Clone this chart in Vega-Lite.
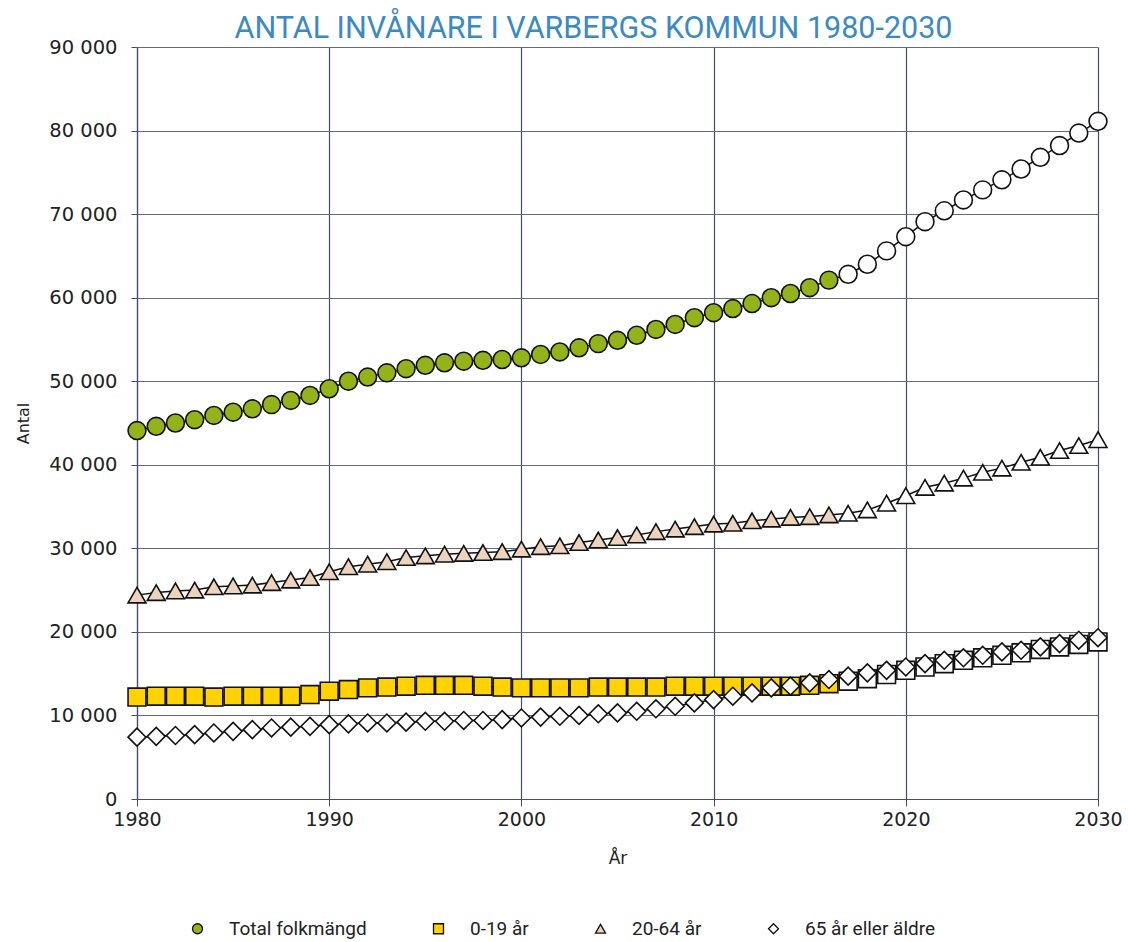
{
  "$schema": "https://vega.github.io/schema/vega-lite/v6.json",
  "width": 961,
  "height": 752,
  "autosize": {"type": "none"},
  "padding": {"left": 137, "top": 47, "right": 30, "bottom": 143},
  "background": "white",
  "title": {"text": "ANTAL INVÅNARE I VARBERGS KOMMUN 1980-2030", "font": "Roboto", "fontSize": 30.5, "fontWeight": "normal", "color": "#3b8ac4", "anchor": "middle", "offset": 6, "dx": -24, "dy": 13},
  "config": {
    "locale": {"number": {"decimal": ",", "thousands": " ", "grouping": [3], "currency": ["", " kr"]}},
    "view": {"stroke": null},
    "font": "DejaVu Sans"
  },
  "data": {"values": [
    {"series":"Total folkmängd","year":1980,"value":44100},{"series":"Total folkmängd","year":1981,"value":44600},{"series":"Total folkmängd","year":1982,"value":45000},{"series":"Total folkmängd","year":1983,"value":45400},{"series":"Total folkmängd","year":1984,"value":45900},{"series":"Total folkmängd","year":1985,"value":46300},{"series":"Total folkmängd","year":1986,"value":46700},{"series":"Total folkmängd","year":1987,"value":47200},{"series":"Total folkmängd","year":1988,"value":47700},{"series":"Total folkmängd","year":1989,"value":48300},
    {"series":"Total folkmängd","year":1990,"value":49100},{"series":"Total folkmängd","year":1991,"value":50000},{"series":"Total folkmängd","year":1992,"value":50500},{"series":"Total folkmängd","year":1993,"value":51000},{"series":"Total folkmängd","year":1994,"value":51500},{"series":"Total folkmängd","year":1995,"value":51900},{"series":"Total folkmängd","year":1996,"value":52200},{"series":"Total folkmängd","year":1997,"value":52400},{"series":"Total folkmängd","year":1998,"value":52500},{"series":"Total folkmängd","year":1999,"value":52600},
    {"series":"Total folkmängd","year":2000,"value":52800},{"series":"Total folkmängd","year":2001,"value":53200},{"series":"Total folkmängd","year":2002,"value":53500},{"series":"Total folkmängd","year":2003,"value":54000},{"series":"Total folkmängd","year":2004,"value":54500},{"series":"Total folkmängd","year":2005,"value":54900},{"series":"Total folkmängd","year":2006,"value":55500},{"series":"Total folkmängd","year":2007,"value":56200},{"series":"Total folkmängd","year":2008,"value":56800},{"series":"Total folkmängd","year":2009,"value":57600},
    {"series":"Total folkmängd","year":2010,"value":58200},{"series":"Total folkmängd","year":2011,"value":58700},{"series":"Total folkmängd","year":2012,"value":59300},{"series":"Total folkmängd","year":2013,"value":60000},{"series":"Total folkmängd","year":2014,"value":60500},{"series":"Total folkmängd","year":2015,"value":61200},{"series":"Total folkmängd","year":2016,"value":62100},{"series":"Total folkmängd","year":2017,"value":62800},{"series":"Total folkmängd","year":2018,"value":64000},{"series":"Total folkmängd","year":2019,"value":65600},
    {"series":"Total folkmängd","year":2020,"value":67300},{"series":"Total folkmängd","year":2021,"value":69100},{"series":"Total folkmängd","year":2022,"value":70400},{"series":"Total folkmängd","year":2023,"value":71700},{"series":"Total folkmängd","year":2024,"value":72900},{"series":"Total folkmängd","year":2025,"value":74100},{"series":"Total folkmängd","year":2026,"value":75400},{"series":"Total folkmängd","year":2027,"value":76800},{"series":"Total folkmängd","year":2028,"value":78200},{"series":"Total folkmängd","year":2029,"value":79700},{"series":"Total folkmängd","year":2030,"value":81100},

    {"series":"0-19 år","year":1980,"value":12200},{"series":"0-19 år","year":1981,"value":12300},{"series":"0-19 år","year":1982,"value":12300},{"series":"0-19 år","year":1983,"value":12300},{"series":"0-19 år","year":1984,"value":12200},{"series":"0-19 år","year":1985,"value":12300},{"series":"0-19 år","year":1986,"value":12300},{"series":"0-19 år","year":1987,"value":12300},{"series":"0-19 år","year":1988,"value":12300},{"series":"0-19 år","year":1989,"value":12500},
    {"series":"0-19 år","year":1990,"value":12900},{"series":"0-19 år","year":1991,"value":13100},{"series":"0-19 år","year":1992,"value":13300},{"series":"0-19 år","year":1993,"value":13400},{"series":"0-19 år","year":1994,"value":13500},{"series":"0-19 år","year":1995,"value":13600},{"series":"0-19 år","year":1996,"value":13600},{"series":"0-19 år","year":1997,"value":13600},{"series":"0-19 år","year":1998,"value":13500},{"series":"0-19 år","year":1999,"value":13400},
    {"series":"0-19 år","year":2000,"value":13300},{"series":"0-19 år","year":2001,"value":13300},{"series":"0-19 år","year":2002,"value":13300},{"series":"0-19 år","year":2003,"value":13300},{"series":"0-19 år","year":2004,"value":13400},{"series":"0-19 år","year":2005,"value":13400},{"series":"0-19 år","year":2006,"value":13400},{"series":"0-19 år","year":2007,"value":13400},{"series":"0-19 år","year":2008,"value":13500},{"series":"0-19 år","year":2009,"value":13500},
    {"series":"0-19 år","year":2010,"value":13500},{"series":"0-19 år","year":2011,"value":13500},{"series":"0-19 år","year":2012,"value":13500},{"series":"0-19 år","year":2013,"value":13500},{"series":"0-19 år","year":2014,"value":13500},{"series":"0-19 år","year":2015,"value":13600},{"series":"0-19 år","year":2016,"value":13800},{"series":"0-19 år","year":2017,"value":14100},{"series":"0-19 år","year":2018,"value":14400},{"series":"0-19 år","year":2019,"value":14900},
    {"series":"0-19 år","year":2020,"value":15400},{"series":"0-19 år","year":2021,"value":15800},{"series":"0-19 år","year":2022,"value":16200},{"series":"0-19 år","year":2023,"value":16600},{"series":"0-19 år","year":2024,"value":16900},{"series":"0-19 år","year":2025,"value":17200},{"series":"0-19 år","year":2026,"value":17500},{"series":"0-19 år","year":2027,"value":17900},{"series":"0-19 år","year":2028,"value":18200},{"series":"0-19 år","year":2029,"value":18500},{"series":"0-19 år","year":2030,"value":18800},

    {"series":"20-64 år","year":1980,"value":24400},{"series":"20-64 år","year":1981,"value":24700},{"series":"20-64 år","year":1982,"value":24900},{"series":"20-64 år","year":1983,"value":25000},{"series":"20-64 år","year":1984,"value":25400},{"series":"20-64 år","year":1985,"value":25500},{"series":"20-64 år","year":1986,"value":25600},{"series":"20-64 år","year":1987,"value":25900},{"series":"20-64 år","year":1988,"value":26200},{"series":"20-64 år","year":1989,"value":26500},
    {"series":"20-64 år","year":1990,"value":27200},{"series":"20-64 år","year":1991,"value":27800},{"series":"20-64 år","year":1992,"value":28100},{"series":"20-64 år","year":1993,"value":28400},{"series":"20-64 år","year":1994,"value":28900},{"series":"20-64 år","year":1995,"value":29100},{"series":"20-64 år","year":1996,"value":29300},{"series":"20-64 år","year":1997,"value":29400},{"series":"20-64 år","year":1998,"value":29500},{"series":"20-64 år","year":1999,"value":29600},
    {"series":"20-64 år","year":2000,"value":29900},{"series":"20-64 år","year":2001,"value":30200},{"series":"20-64 år","year":2002,"value":30300},{"series":"20-64 år","year":2003,"value":30700},{"series":"20-64 år","year":2004,"value":31000},{"series":"20-64 år","year":2005,"value":31300},{"series":"20-64 år","year":2006,"value":31600},{"series":"20-64 år","year":2007,"value":32000},{"series":"20-64 år","year":2008,"value":32300},{"series":"20-64 år","year":2009,"value":32600},
    {"series":"20-64 år","year":2010,"value":32900},{"series":"20-64 år","year":2011,"value":33000},{"series":"20-64 år","year":2012,"value":33300},{"series":"20-64 år","year":2013,"value":33500},{"series":"20-64 år","year":2014,"value":33700},{"series":"20-64 år","year":2015,"value":33800},{"series":"20-64 år","year":2016,"value":34000},{"series":"20-64 år","year":2017,"value":34200},{"series":"20-64 år","year":2018,"value":34600},{"series":"20-64 år","year":2019,"value":35400},
    {"series":"20-64 år","year":2020,"value":36300},{"series":"20-64 år","year":2021,"value":37300},{"series":"20-64 år","year":2022,"value":37800},{"series":"20-64 år","year":2023,"value":38400},{"series":"20-64 år","year":2024,"value":39100},{"series":"20-64 år","year":2025,"value":39600},{"series":"20-64 år","year":2026,"value":40300},{"series":"20-64 år","year":2027,"value":40900},{"series":"20-64 år","year":2028,"value":41700},{"series":"20-64 år","year":2029,"value":42300},{"series":"20-64 år","year":2030,"value":43000},

    {"series":"65 år eller äldre","year":1980,"value":7400},{"series":"65 år eller äldre","year":1981,"value":7500},{"series":"65 år eller äldre","year":1982,"value":7600},{"series":"65 år eller äldre","year":1983,"value":7700},{"series":"65 år eller äldre","year":1984,"value":7900},{"series":"65 år eller äldre","year":1985,"value":8100},{"series":"65 år eller äldre","year":1986,"value":8300},{"series":"65 år eller äldre","year":1987,"value":8500},{"series":"65 år eller äldre","year":1988,"value":8600},{"series":"65 år eller äldre","year":1989,"value":8700},
    {"series":"65 år eller äldre","year":1990,"value":8900},{"series":"65 år eller äldre","year":1991,"value":9000},{"series":"65 år eller äldre","year":1992,"value":9100},{"series":"65 år eller äldre","year":1993,"value":9100},{"series":"65 år eller äldre","year":1994,"value":9200},{"series":"65 år eller äldre","year":1995,"value":9300},{"series":"65 år eller äldre","year":1996,"value":9300},{"series":"65 år eller äldre","year":1997,"value":9400},{"series":"65 år eller äldre","year":1998,"value":9400},{"series":"65 år eller äldre","year":1999,"value":9500},
    {"series":"65 år eller äldre","year":2000,"value":9700},{"series":"65 år eller äldre","year":2001,"value":9800},{"series":"65 år eller äldre","year":2002,"value":9900},{"series":"65 år eller äldre","year":2003,"value":10000},{"series":"65 år eller äldre","year":2004,"value":10200},{"series":"65 år eller äldre","year":2005,"value":10300},{"series":"65 år eller äldre","year":2006,"value":10500},{"series":"65 år eller äldre","year":2007,"value":10800},{"series":"65 år eller äldre","year":2008,"value":11100},{"series":"65 år eller äldre","year":2009,"value":11500},
    {"series":"65 år eller äldre","year":2010,"value":11900},{"series":"65 år eller äldre","year":2011,"value":12300},{"series":"65 år eller äldre","year":2012,"value":12700},{"series":"65 år eller äldre","year":2013,"value":13300},{"series":"65 år eller äldre","year":2014,"value":13500},{"series":"65 år eller äldre","year":2015,"value":13900},{"series":"65 år eller äldre","year":2016,"value":14300},{"series":"65 år eller äldre","year":2017,"value":14700},{"series":"65 år eller äldre","year":2018,"value":15100},{"series":"65 år eller äldre","year":2019,"value":15400},
    {"series":"65 år eller äldre","year":2020,"value":15800},{"series":"65 år eller äldre","year":2021,"value":16200},{"series":"65 år eller äldre","year":2022,"value":16600},{"series":"65 år eller äldre","year":2023,"value":16900},{"series":"65 år eller äldre","year":2024,"value":17200},{"series":"65 år eller äldre","year":2025,"value":17600},{"series":"65 år eller äldre","year":2026,"value":17800},{"series":"65 år eller äldre","year":2027,"value":18200},{"series":"65 år eller äldre","year":2028,"value":18600},{"series":"65 år eller äldre","year":2029,"value":19000},{"series":"65 år eller äldre","year":2030,"value":19300}
  ]},
  "encoding": {
    "x": {"field": "year", "type": "quantitative",
      "scale": {"domain": [1980, 2030], "nice": false, "zero": false},
      "axis": {"title": "År", "values": [1980, 1990, 2000, 2010, 2020, 2030], "format": "d",
        "grid": true, "gridColor": "#4a4c6e", "gridWidth": 1.2,
        "domainColor": "#4a4c6e", "domainWidth": 1.2, "tickColor": "#4a4c6e", "tickSize": 7,
        "labelFont": "DejaVu Sans", "labelFontSize": 19, "labelColor": "#222", "labelPadding": 4, "labelFlush": false,
        "titleFont": "DejaVu Sans", "titleFontSize": 17, "titleFontWeight": "normal", "titleColor": "#222", "titlePadding": 21}},
    "y": {"field": "value", "type": "quantitative",
      "scale": {"domain": [0, 90000], "nice": false},
      "axis": {"title": "Antal", "values": [0, 10000, 20000, 30000, 40000, 50000, 60000, 70000, 80000, 90000], "format": ",d",
        "grid": true, "gridColor": "#666a80", "gridWidth": 1,
        "domainColor": "#4a4c6e", "domainWidth": 1.2, "tickColor": "#4a4c6e", "tickSize": 6,
        "labelFont": "DejaVu Sans", "labelFontSize": 19.5, "labelColor": "#222", "labelPadding": 14,
        "titleFont": "DejaVu Sans", "titleFontSize": 16, "titleFontWeight": "normal", "titleColor": "#222", "titlePadding": 17}}
  },
  "layer": [
    {
      "mark": {"type": "line", "stroke": "#111", "strokeWidth": 1.5},
      "encoding": {"detail": {"field": "series", "type": "nominal"}}
    },
    {
      "mark": {"type": "point", "filled": true, "size": 320, "stroke": "#111", "strokeWidth": 1.6, "opacity": 1},
      "encoding": {
        "shape": {"field": "series", "type": "nominal",
          "scale": {"domain": ["Total folkmängd", "0-19 år", "20-64 år", "65 år eller äldre"], "range": ["circle", "square", "triangle-up", "diamond"]},
          "legend": {"title": null, "orient": "none", "legendX": 51, "legendY": 872, "direction": "horizontal",
            "symbolSize": 100, "symbolStrokeColor": "#111", "symbolStrokeWidth": 1.3, "symbolOpacity": 1,
            "labelFont": "Roboto", "labelFontSize": 19, "labelColor": "#222", "labelOffset": 22, "columnPadding": 62,
            "encode": {"symbols": {"update": {"shape": {"signal": "'circle'"}}}}}},
        "fill": {
          "condition": {"test": "datum.year > 2016", "value": "white"},
          "field": "series", "type": "nominal",
          "scale": {"domain": ["Total folkmängd", "0-19 år", "20-64 år", "65 år eller äldre"], "range": ["#94b21a", "#ffd200", "#ecd3bd", "#ffffff"]},
          "legend": {"title": null, "orient": "none", "legendX": 51, "legendY": 872, "direction": "horizontal",
            "symbolSize": 100, "symbolStrokeColor": "#111", "symbolStrokeWidth": 1.3, "symbolOpacity": 1,
            "labelFont": "Roboto", "labelFontSize": 19, "labelColor": "#222", "labelOffset": 22, "columnPadding": 62,
            "encode": {"symbols": {"update": {"shape": {"signal": "'circle'"}}}}}
        }
      }
    }
  ]
}
